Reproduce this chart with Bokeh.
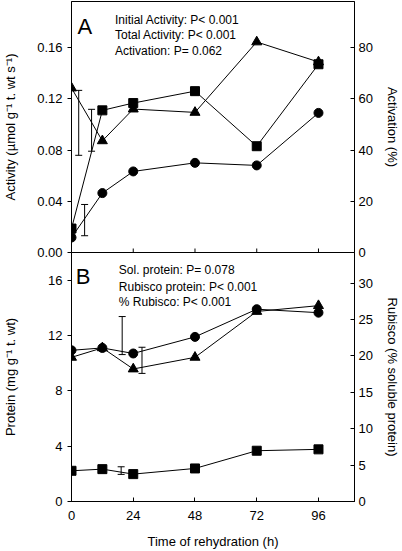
import math
from bokeh.plotting import figure
from bokeh.models import (LinearAxis, Range1d, FixedTicker, Whisker, TeeHead,
                          ColumnDataSource, Label, NumeralTickFormatter)
from bokeh.layouts import column
from bokeh.embed import file_html
from bokeh.resources import INLINE

FONT = "Liberation Sans"

# ---------------- data ----------------
hours = [0, 12, 24, 48, 72, 96]
x_ticks = [0, 24, 48, 72, 96]

# Panel A
initial_activity = [0.0117, 0.0464, 0.0633, 0.0700, 0.0680, 0.1090]
total_activity = [0.0187, 0.1110, 0.1167, 0.1260, 0.0830, 0.1470]
activation_pct = [64.2, 43.6, 56.0, 54.7, 82.2, 74.4]
a_left_ticks = [0.0, 0.04, 0.08, 0.12, 0.16]
a_right_ticks = [0, 20, 40, 60, 80]
a_lsd_x = [2.8, 7.8, 5.1]
a_lsd_low = [0.0759, 0.0791, 0.0131]
a_lsd_high = [0.1266, 0.1118, 0.0375]
a_notes = ["Initial Activity: P< 0.001", "Total Activity: P< 0.001", "Activation: P= 0.062"]

# Panel B
sol_protein = [10.93, 11.10, 10.70, 11.90, 13.90, 13.65]
rubisco_protein = [2.22, 2.34, 1.98, 2.39, 3.67, 3.77]
rubisco_pct = [19.8, 21.1, 18.2, 19.8, 26.1, 26.9]
b_left_ticks = [0, 4, 8, 12, 16]
b_right_ticks = [0, 5, 10, 15, 20, 25, 30]
b_lsd_x = [19.7, 27.4, 19.3]
b_lsd_low = [10.62, 9.26, 1.96]
b_lsd_high = [13.37, 11.15, 2.51]
b_notes = ["Sol. protein: P= 0.078", "Rubisco protein: P< 0.001", "% Rubisco: P< 0.001"]


def style_axis(ax, tick_in, tick_out):
    ax.axis_line_color = "black"
    ax.axis_line_width = 1
    ax.major_tick_line_color = "black"
    ax.major_tick_in = tick_in
    ax.major_tick_out = tick_out
    ax.minor_tick_line_color = None
    ax.major_label_text_font = FONT
    ax.major_label_text_font_size = "13px"
    ax.major_label_text_color = "black"
    ax.axis_label_text_font = FONT
    ax.axis_label_text_font_size = "13px"
    ax.axis_label_text_font_style = "normal"
    ax.axis_label_text_color = "black"


def base_fig(height, ylim, top, bottom):
    p = figure(width=402, height=height, x_range=Range1d(0, 110),
               y_range=Range1d(*ylim), output_backend="svg",
               toolbar_location=None, min_border_left=69, min_border_right=48,
               min_border_top=top, min_border_bottom=bottom)
    p.xgrid.visible = False
    p.ygrid.visible = False
    p.outline_line_color = "black"
    p.outline_line_width = 1
    p.outline_line_alpha = 1
    p.background_fill_color = "white"
    return p


# ---------------- Panel A ----------------
pA = base_fig(262, (0, 0.196), 1, 10)
pA.border_fill_color = "white"
pA.extra_y_ranges = {"act": Range1d(0, 98)}
pA.xaxis.visible = False
# inward x ticks on the bottom edge of panel A (lower half hidden by the frame clip / panel B)
pA.scatter(x_ticks[1:], [0] * (len(x_ticks) - 1), marker="dash", size=8,
           angle=math.pi / 2, line_color="black", line_width=1)

ya = pA.yaxis[0]
style_axis(ya, 0, 4)
ya.ticker = FixedTicker(ticks=a_left_ticks)
ya.formatter = NumeralTickFormatter(format="0.00")
ya.major_label_standoff = 5
ya.axis_label = "Activity (µmol g⁻¹ t. wt s⁻¹)"
ya.axis_label_standoff = 16

ra = LinearAxis(y_range_name="act", axis_label="Activation (%)")
style_axis(ra, 4, 0)
ra.ticker = FixedTicker(ticks=a_right_ticks)
ra.major_label_standoff = 4
ra.axis_label_standoff = 9
pA.add_layout(ra, "right")

for ys, rng in ((total_activity, "default"), (initial_activity, "default"), (activation_pct, "act")):
    pA.line(hours, ys, line_color="black", line_width=1, y_range_name=rng)
pA.scatter(hours, initial_activity, marker="circle", size=9, color="black")
pA.scatter(hours, activation_pct, marker="triangle", size=10, color="black", y_range_name="act")
pA.scatter(hours, total_activity, marker="square", size=9, color="black")

srcA = ColumnDataSource(dict(x=a_lsd_x, lo=a_lsd_low, hi=a_lsd_high))
pA.add_layout(Whisker(source=srcA, base="x", lower="lo", upper="hi", dimension="height",
                      line_color="black", line_width=1,
                      upper_head=TeeHead(size=7, line_color="black", line_width=1),
                      lower_head=TeeHead(size=7, line_color="black", line_width=1)))

pA.add_layout(Label(x=2.3, y=0.1766, text="A", text_font=FONT, text_font_size="22px",
                    text_color="black", text_baseline="alphabetic"))
for txt, yy in zip(a_notes, [0.1818, 0.1698, 0.1577]):
    pA.add_layout(Label(x=16.9, y=yy, text=txt, text_font=FONT, text_font_size="12px",
                        text_color="black", text_baseline="alphabetic"))

# ---------------- Panel B ----------------
pB = base_fig(299, (0, 18), 0, 48)
pB.border_fill_color = None
pB.margin = (-10, 0, 0, 0)
pB.extra_y_ranges = {"pct": Range1d(0, 34.2)}

xb = pB.xaxis[0]
style_axis(xb, 4, 0)
xb.ticker = FixedTicker(ticks=x_ticks)
xb.major_label_standoff = 9
xb.axis_label = "Time of rehydration (h)"
xb.axis_label_standoff = 11

yb = pB.yaxis[0]
style_axis(yb, 0, 4)
yb.ticker = FixedTicker(ticks=b_left_ticks)
yb.major_label_standoff = 5
yb.axis_label = "Protein (mg g⁻¹ t. wt)"
yb.axis_label_standoff = 27

rb = LinearAxis(y_range_name="pct", axis_label="Rubisco (% soluble protein)")
style_axis(rb, 4, 0)
rb.ticker = FixedTicker(ticks=b_right_ticks)
rb.major_label_standoff = 4
rb.axis_label_standoff = 9
pB.add_layout(rb, "right")

for ys, rng in ((sol_protein, "default"), (rubisco_pct, "pct"), (rubisco_protein, "default")):
    pB.line(hours, ys, line_color="black", line_width=1, y_range_name=rng)
pB.scatter(hours, sol_protein, marker="circle", size=9, color="black")
pB.scatter(hours, rubisco_pct, marker="triangle", size=10, color="black", y_range_name="pct")
pB.scatter(hours, rubisco_protein, marker="square", size=9, color="black")

srcB = ColumnDataSource(dict(x=b_lsd_x, lo=b_lsd_low, hi=b_lsd_high))
pB.add_layout(Whisker(source=srcB, base="x", lower="lo", upper="hi", dimension="height",
                      line_color="black", line_width=1,
                      upper_head=TeeHead(size=7, line_color="black", line_width=1),
                      lower_head=TeeHead(size=7, line_color="black", line_width=1)))

pB.add_layout(Label(x=1.7, y=16.23, text="B", text_font=FONT, text_font_size="22px",
                    text_color="black", text_baseline="alphabetic"))
for txt, yy in zip(b_notes, [16.71, 15.52, 14.40]):
    pB.add_layout(Label(x=18.4, y=yy, text=txt, text_font=FONT, text_font_size="12px",
                        text_color="black", text_baseline="alphabetic"))

layout = column(pA, pB, spacing=0)
open("out.html", "w").write(file_html(layout, INLINE))
